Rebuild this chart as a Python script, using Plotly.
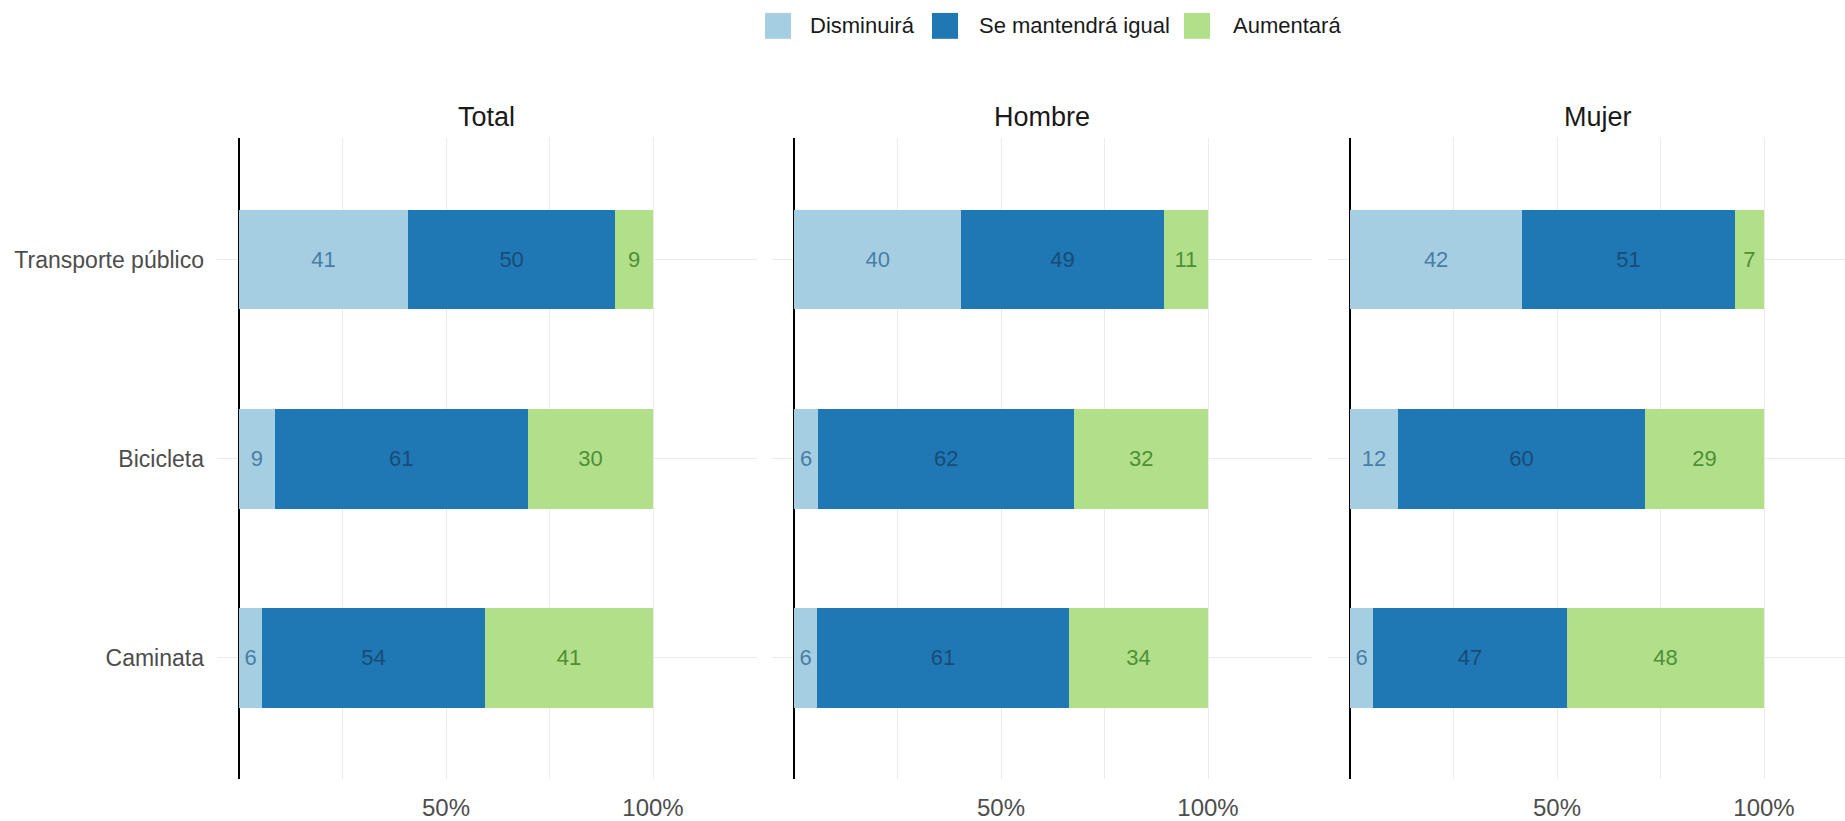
import plotly.graph_objects as go

# ---------------- data ----------------
panels = ["Total", "Hombre", "Mujer"]
categories = ["Transporte público", "Bicicleta", "Caminata"]
series = ["Disminuirá", "Se mantendrá igual", "Aumentará"]

# percentages per panel, in category order
total_dis = [40.8, 8.6, 5.6]
total_man = [50.1, 61.2, 53.8]
total_aum = [9.1, 30.2, 40.6]

hombre_dis = [40.4, 5.8, 5.6]
hombre_man = [48.9, 61.9, 60.8]
hombre_aum = [10.7, 32.3, 33.6]

mujer_dis = [41.6, 11.6, 5.6]
mujer_man = [51.3, 59.6, 46.8]
mujer_aum = [7.1, 28.8, 47.6]

x_tickvals = [0, 25, 50, 75, 100, 125]
x_ticktext = ["", "", "50%", "", "100%", ""]

# ---------------- style ----------------
fills = ["#A6CEE3", "#1F78B4", "#B2DF8A"]
text_cols = ["#4a7ea3", "#184b77", "#4f8f35"]
FONT = "Liberation Sans, Arial, Helvetica, sans-serif"
W, H = 1845, 821

panel_data = {
    "Total": [total_dis, total_man, total_aum],
    "Hombre": [hombre_dis, hombre_man, hombre_aum],
    "Mujer": [mujer_dis, mujer_man, mujer_aum],
}

# pixel geometry (left edge, zero position, right edge) per panel
px_per_unit = 4.14
geom = [(217, 239, 757), (772, 794, 1312), (1328, 1350, 1845)]
title_x = [487, 1042, 1598]
y_top, y_bot = 139, 783

fig = go.Figure()

for i, p in enumerate(panels):
    ax = "" if i == 0 else str(i + 1)
    for s, name in enumerate(series):
        vals = panel_data[p][s]
        fig.add_trace(go.Bar(
            x=vals, y=categories, orientation="h", name=name,
            marker=dict(color=fills[s], line=dict(width=0)),
            width=0.5,
            text=[f"{v:.0f}" for v in vals],
            textposition="inside", insidetextanchor="middle",
            constraintext="none", textangle=0,
            textfont=dict(color=text_cols[s], size=22, family=FONT),
            showlegend=False,
            xaxis="x" + ax, yaxis="y" + ax,
            hovertemplate="%{y}: %{x:.1f}%<extra>" + name + "</extra>",
        ))
    left, zero, right = geom[i]
    xr = [(left - zero) / px_per_unit, (right - zero) / px_per_unit]
    fig.update_layout(**{
        "xaxis" + ax: dict(
            domain=[left / W, right / W], range=xr, anchor="y" + ax,
            tickvals=x_tickvals, ticktext=x_ticktext,
            showgrid=True, gridcolor="#ebebeb", gridwidth=1.4,
            zeroline=True, zerolinecolor="#000000", zerolinewidth=2.4,
            showline=False, ticks="", ticklabelstandoff=12,
            tickfont=dict(size=24, color="#4d4d4d", family=FONT),
            fixedrange=True,
        ),
        "yaxis" + ax: dict(
            domain=[1 - y_bot / H, 1 - y_top / H], anchor="x" + ax,
            type="category", categoryorder="array", categoryarray=categories,
            range=[2.61, -0.61],
            showgrid=True, gridcolor="#ebebeb", gridwidth=1.4,
            zeroline=False, showline=False, ticks="",
            showticklabels=(i == 0), ticklabelstandoff=12,
            tickfont=dict(size=23, color="#4d4d4d", family=FONT),
            fixedrange=True,
        ),
    })
    fig.add_annotation(
        text=p, x=title_x[i] / W, y=1 - 118 / H, xref="paper", yref="paper",
        xanchor="center", yanchor="middle", showarrow=False,
        font=dict(size=27, color="#1a1a1a", family=FONT),
    )

# manual legend (large square keys)
leg_sw_x = [765, 932, 1184]
leg_tx_x = [808, 977, 1231]
leg_y = 26
for s, name in enumerate(series):
    fig.add_shape(
        type="rect", xref="paper", yref="paper",
        x0=leg_sw_x[s] / W, x1=(leg_sw_x[s] + 26) / W,
        y0=1 - (leg_y + 13) / H, y1=1 - (leg_y - 13) / H,
        fillcolor=fills[s], line=dict(width=0),
    )
    fig.add_annotation(
        text=name, x=leg_tx_x[s] / W, y=1 - leg_y / H, xref="paper", yref="paper",
        xanchor="left", yanchor="middle", showarrow=False,
        font=dict(size=22, color="#1a1a1a", family=FONT),
    )

fig.update_layout(
    width=W, height=H, barmode="stack",
    margin=dict(l=0, r=0, t=0, b=0),
    paper_bgcolor="white", plot_bgcolor="white",
    font=dict(family=FONT),
    showlegend=False,
)

fig.write_html(
    "out.html",
    config={"displayModeBar": False},
    post_script="document.body.style.margin='0';document.body.style.padding='0';"
                "document.body.style.overflow='hidden';",
)
